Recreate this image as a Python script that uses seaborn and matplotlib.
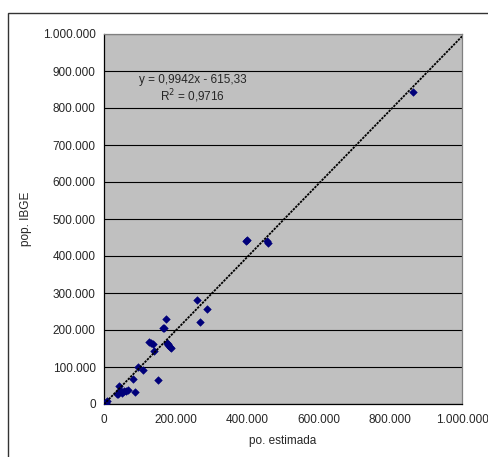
"""Scatter of estimated vs IBGE population with a linear trendline (Excel-style)."""

import matplotlib
matplotlib.use("Agg")
import matplotlib.pyplot as plt
from matplotlib.ticker import FuncFormatter, MultipleLocator
import pandas as pd
import seaborn as sns

# values
pop_estimada = [2800, 5000, 9200, 35000, 40000, 41900, 45000, 49000, 56000, 61000,
                67000, 82000, 86500, 96000, 108000, 127000, 132000, 136000, 139500, 150000,
                165600, 168000, 173000, 176000, 177700, 180000, 184000, 187000, 258600, 268000,
                289000, 398000, 400000, 455000, 458600, 863000]
pop_ibge = [3800, 2000, 8100, 28000, 26000, 48700, 38000, 30000, 35000, 35000,
            37000, 67000, 33500, 100000, 93000, 168000, 165000, 162000, 143000, 66000,
            205000, 205000, 231000, 165000, 159000, 163000, 155000, 152000, 281000, 222000,
            258000, 441000, 443000, 440000, 436000, 842000]
trend_slope = 0.9942
trend_intercept = -615.33
equation_text = "y = 0,9942x - 615,33"
r2_text = "R$^2$ = 0,9716"
axis_max = 1_000_000

NAVY = "#00007a"
PLOT_BG = "#c0c0c0"

sns.set_style("white")
plt.rcParams.update(
    {
        "font.family": ["Liberation Sans", "DejaVu Sans"],
        "font.size": 8.5,
        "xtick.direction": "out",
        "ytick.direction": "out",
    }
)

df = pd.DataFrame({"estimada": pop_estimada, "ibge": pop_ibge})
trend_x = [0, axis_max]
trend = pd.DataFrame({"x": trend_x, "y": [trend_slope * v + trend_intercept for v in trend_x]})

fig = plt.figure(figsize=(4.89, 4.57), dpi=100)
ax = fig.add_axes([104 / 489, 1 - 404 / 457, 358 / 489, 370 / 457])
ax.set_facecolor(PLOT_BG)

# horizontal gridlines only, black like Excel
ax.yaxis.grid(True, color="black", linewidth=0.8)
ax.xaxis.grid(False)
ax.set_axisbelow(True)

sns.scatterplot(data=df, x="estimada", y="ibge", marker="D", s=15, color=NAVY,
                edgecolor=NAVY, linewidth=0.4, ax=ax, zorder=3)
sns.lineplot(data=trend, x="x", y="y", color="black", linewidth=1.3,
             linestyle=(0, (1.3, 0.6)), ax=ax, zorder=4)

ax.set_xlim(0, axis_max)
ax.set_ylim(0, axis_max)
ax.xaxis.set_major_locator(MultipleLocator(200_000))
ax.yaxis.set_major_locator(MultipleLocator(100_000))
fmt = FuncFormatter(lambda v, _: f"{int(v):,}".replace(",", "."))
ax.xaxis.set_major_formatter(fmt)
ax.yaxis.set_major_formatter(fmt)
ax.tick_params(axis="both", length=3.5, width=0.8, color="black", labelsize=8.5, pad=2.5)
ax.tick_params(axis="x", pad=4)

for side in ("left", "bottom"):
    ax.spines[side].set_color("black")
    ax.spines[side].set_linewidth(0.9)
for side in ("right", "top"):
    ax.spines[side].set_color("#808080")
    ax.spines[side].set_linewidth(0.9)

ax.set_xlabel("po. estimada", fontsize=8.5, labelpad=6)
ax.set_ylabel("pop. IBGE", fontsize=8.5, labelpad=8)

ax.text(247_500, 876_500, equation_text, ha="center", va="center", fontsize=8.5)
ax.text(247_500, 833_000, r2_text, ha="center", va="center", fontsize=8.5)

# outer chart-area frame (only top and left edges fall inside the image)
fig.add_artist(plt.Rectangle((8 / 489, -0.1), 1.2, 1 - 13.5 / 457 + 0.1,
                             transform=fig.transFigure, fill=False,
                             edgecolor="#333333", linewidth=1.0))

fig.savefig("out.png", dpi=100)
